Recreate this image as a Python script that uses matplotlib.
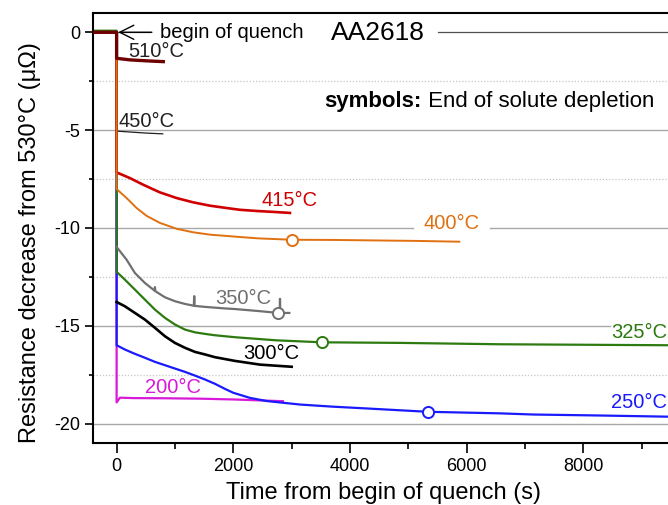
import matplotlib
matplotlib.use('Agg')
import matplotlib.pyplot as plt
from matplotlib.ticker import MultipleLocator, FixedLocator

plt.rcParams['font.family'] = ['Liberation Sans', 'DejaVu Sans']

# ---------------- data (time in s, resistance decrease in µΩ) ----------------
t_510 = [-410, 0, 0, 227, 514, 800]
v_510 = [0, 0, -1.33, -1.41, -1.46, -1.50]

t_450 = [-410, 0, 0, 250, 500, 790]
v_450 = [0, 0, -5.05, -5.10, -5.15, -5.19]

t_415 = [-410, 0, 0, 228, 456, 742, 1029, 1313, 1600, 1886, 2114, 2400, 2700, 2971]
v_415 = [0, 0, -7.16, -7.45, -7.79, -8.18, -8.47, -8.69, -8.86, -8.98, -9.07, -9.13, -9.18, -9.23]

t_400 = [-410, 0, 0, 171, 343, 514, 742, 1029, 1313, 1600, 2114, 2428, 3000, 3714, 4286, 5143, 5874]
v_400 = [0, 0, -8.01, -8.47, -8.98, -9.38, -9.74, -10.04, -10.22, -10.34, -10.46, -10.53, -10.60, -10.61, -10.63, -10.66, -10.70]

t_350 = [0, 0, 171, 314, 485, 650, 657, 664, 828, 999, 1171, 1323, 1330, 1337, 1514, 1857, 2028, 2457, 2771, 2795, 2800, 2805, 2960]
v_350 = [-10.97, -10.97, -11.62, -12.30, -12.81, -13.20, -13.02, -13.23, -13.54, -13.74, -13.88, -13.97, -13.48, -13.98, -14.03, -14.11, -14.14, -14.25, -14.34, -14.34, -13.62, -14.34, -14.34]

t_325 = [-410, 0, 0, 142, 314, 485, 657, 828, 999, 1171, 1342, 1514, 1685, 2028, 2743, 3514, 4857, 6571, 8286, 9450]
v_325 = [0.08, 0.08, -12.24, -12.64, -13.15, -13.66, -14.17, -14.59, -14.93, -15.19, -15.33, -15.41, -15.48, -15.58, -15.74, -15.84, -15.87, -15.94, -15.97, -15.99]

t_300 = [0, 0, 142, 314, 485, 657, 828, 999, 1171, 1342, 1514, 1685, 2028, 2457, 3000]
v_300 = [-13.78, -13.78, -14.00, -14.34, -14.68, -15.10, -15.53, -15.87, -16.12, -16.33, -16.46, -16.60, -16.79, -16.98, -17.09]

t_250 = [-410, 0, 0, 142, 314, 485, 657, 828, 999, 1171, 1342, 1514, 1685, 1857, 2000, 2285, 2571, 3143, 3714, 4286, 5331, 6571, 7143, 8286, 9450]
v_250 = [0, 0, -15.99, -16.21, -16.43, -16.63, -16.84, -17.01, -17.18, -17.35, -17.54, -17.74, -17.96, -18.22, -18.42, -18.68, -18.84, -19.02, -19.13, -19.22, -19.39, -19.47, -19.53, -19.58, -19.64]

t_200 = [0, 0, 57, 285, 857, 1428, 2000, 2850]
v_200 = [0, -18.91, -18.67, -18.69, -18.70, -18.72, -18.76, -18.85]

# end of solute depletion symbols
sym_t = [3000, 2771, 3514, 5331]
sym_v = [-10.60, -14.34, -15.84, -19.39]
sym_c = ['#e07010', '#707070', '#2d7a10', '#1a1aff']

x_ticks = [0, 2000, 4000, 6000, 8000]
y_ticks = [0, -5, -10, -15, -20]

# ---------------- figure ----------------
fig = plt.figure(figsize=(6.68, 5.05), dpi=100)
ax = fig.add_axes([92.7 / 668, 61.7 / 505, (668 - 92.7) / 668, (443.3 - 12.7) / 505])
ax.set_xlim(-410, 9450)
ax.set_ylim(-21, 1.0)

# grid (major lines interrupted where labels sit)
for y in [-2.5, -7.5, -12.5, -17.5]:
    ax.axhline(y, color='#c4c4c4', lw=0.9, ls=(0, (1, 1.5)), zorder=0.5)
ax.axhline(-5, color='#a8a8a8', lw=1.0, zorder=0.5)
ax.axhline(-20, color='#a8a8a8', lw=1.0, zorder=0.5)
ax.axhline(-10, xmax=0.557, color='#a8a8a8', lw=1.0, zorder=0.5)
ax.axhline(-10, xmin=0.691, color='#a8a8a8', lw=1.0, zorder=0.5)
ax.axhline(-15, xmax=0.899, color='#a8a8a8', lw=1.0, zorder=0.5)
ax.axhline(0, xmax=0.10, color='#505050', lw=0.9, zorder=0.5)
ax.axhline(0, xmin=0.600, color='#505050', lw=0.9, zorder=0.5)

# curves (drawing order controls which vertical drop is visible)
ax.plot(t_200, v_200, color='#d81ad8', lw=1.6, zorder=2.0)
ax.plot(t_250, v_250, color='#1a1aff', lw=1.6, zorder=2.1)
ax.plot(t_325, v_325, color='#2d7a10', lw=1.6, zorder=2.2)
ax.plot(t_300, v_300, color='#000000', lw=1.9, zorder=2.3)
ax.plot(t_350, v_350, color='#707070', lw=1.6, zorder=2.4)
ax.plot(t_415, v_415, color='#d00000', lw=1.9, zorder=2.5)
ax.plot(t_450, v_450, color='#202020', lw=0.9, zorder=2.6)
ax.plot(t_400, v_400, color='#e07010', lw=1.4, zorder=2.7)
ax.plot(t_510, v_510, color='#6e0000', lw=2.4, zorder=2.8)

for t, v, c in zip(sym_t, sym_v, sym_c):
    ax.plot([t], [v], marker='o', ms=8, mfc='white', mec=c, mew=1.4, zorder=4)

# labels
fs = 14.5
ax.text(194, -0.99, '510°C', color='#202020', fontsize=fs, ha='left', va='center')
ax.text(28, -4.56, '450°C', color='#202020', fontsize=fs, ha='left', va='center')
ax.text(2971, -8.59, '415°C', color='#d00000', fontsize=fs, ha='center', va='center')
ax.text(5737, -9.78, '400°C', color='#e07010', fontsize=fs, ha='center', va='center')
ax.text(2171, -13.61, '350°C', color='#707070', fontsize=fs, ha='center', va='center')
ax.text(0.999, -15.36, '325°C', color='#2d7a10', fontsize=fs, ha='right', va='center',
        transform=ax.get_yaxis_transform())
ax.text(2643, -16.41, '300°C', color='#000000', fontsize=fs, ha='center', va='center')
ax.text(971, -18.13, '200°C', color='#d81ad8', fontsize=fs, ha='center', va='center')
ax.text(0.999, -18.9, '250°C', color='#1a1aff', fontsize=fs, ha='right', va='center',
        transform=ax.get_yaxis_transform())

ax.text(4480, -0.05, 'AA2618', color='black', fontsize=19, ha='center', va='center')
ax.annotate('begin of quench', xy=(27, 0), xytext=(742, 0), fontsize=fs,
            ha='left', va='center', color='black',
            bbox=dict(boxstyle='square,pad=0.4', fc='none', ec='none'),
            arrowprops=dict(arrowstyle='->,head_length=0.7,head_width=0.35',
                            color='black', lw=1.0, shrinkA=0, shrinkB=0))
t_sym = ax.text(3557, -3.55, 'symbols:', fontsize=16, fontweight='bold',
                ha='left', va='center', color='black')
ax.annotate(' End of solute depletion', xy=(1, 0.5), xycoords=t_sym, fontsize=16,
            ha='left', va='center', color='black')

# axes styling
ax.spines['right'].set_visible(False)
for s in ['left', 'bottom', 'top']:
    ax.spines[s].set_linewidth(1.5)
ax.xaxis.set_major_locator(FixedLocator(x_ticks))
ax.xaxis.set_minor_locator(MultipleLocator(1000))
ax.yaxis.set_major_locator(FixedLocator(y_ticks))
ax.yaxis.set_minor_locator(MultipleLocator(2.5))
ax.set_xticklabels([str(x) for x in x_ticks])
ax.set_yticklabels([str(y) for y in y_ticks])
ax.tick_params(axis='x', which='major', direction='out', length=7, width=1.2, labelsize=13, pad=3.5)
ax.tick_params(axis='x', which='minor', direction='out', length=4.3, width=1.2)
ax.tick_params(axis='y', which='major', direction='out', length=5.5, width=1.2, labelsize=13, pad=3.5)
ax.tick_params(axis='y', which='minor', direction='out', length=3, width=1.2)
ax.tick_params(top=False, right=False, which='both')

fig.text(384 / 668, 1 - 493 / 505, 'Time from begin of quench (s)', fontsize=17,
         ha='center', va='center')
fig.text(30 / 668, 1 - 243 / 505, 'Resistance decrease from 530°C (μΩ)', fontsize=17,
         ha='center', va='center', rotation=90)

fig.savefig('out.png', dpi=100)
